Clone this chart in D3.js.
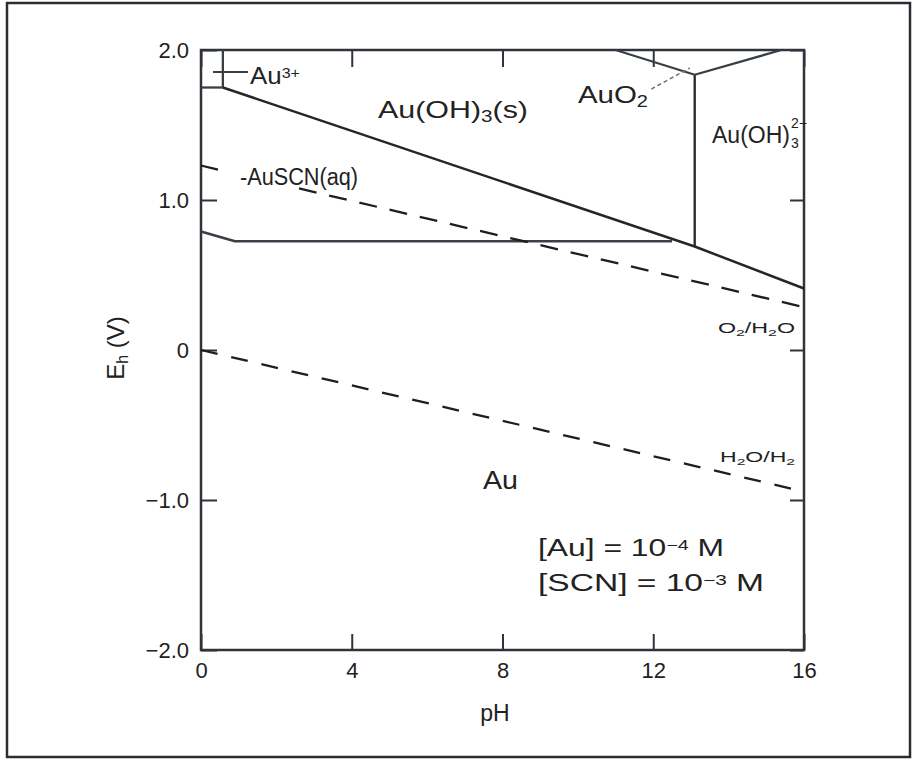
<!DOCTYPE html>
<html>
<head>
<meta charset="utf-8">
<script src="https://cdn.jsdelivr.net/npm/d3@7"></script>
<style>
  html, body { margin: 0; padding: 0; background: #fff; }
  svg { display: block; }
  text { font-family: "Liberation Sans", Arial, Helvetica, sans-serif; fill: #222; }
</style>
</head>
<body>
<svg id="chart" width="912" height="762"></svg>
<script>
// ---- data (pH, Eh in V) ----
const xTicks = [0, 4, 8, 12, 16];
const xTickLabels = ["0", "4", "8", "12", "16"];
const yTicks = [-2, -1, 0, 1, 2];
const yTickLabels = ["\u22122.0", "\u22121.0", "0", "1.0", "2.0"];

const au3Vertical   = [[0.58, 2.0], [0.58, 1.75]];
const au3Horizontal = [[0.0, 1.75], [0.58, 1.75]];
const auOH3Lower    = [[0.58, 1.75], [13.1, 0.69], [16.0, 0.41]];
const auOH3Vertical = [[13.1, 0.69], [13.1, 1.835]];
const auO2Wedge     = [[11.0, 2.0], [13.1, 1.835], [15.4, 2.0]];
const auscnLower    = [[0.0, 0.79], [0.9, 0.725], [12.5, 0.725]];
const o2h2oA        = [[0.0, 1.23], [0.45, 1.203]];
const o2h2oB        = [[2.6, 1.077], [16.0, 0.286]];
const h2oh2         = [[0.0, 0.0], [16.0, -0.944]];
const auO2Leader    = [[11.95, 1.74], [12.97, 1.88]];

const svg = d3.select("#chart");
const x = d3.scaleLinear().domain([0, 16]).range([201, 804]);
const y = d3.scaleLinear().domain([-2, 2]).range([650, 50]);
const line = d3.line().x(d => x(d[0])).y(d => y(d[1]));

// outer frame
svg.append("rect").attr("x", 7).attr("y", 3).attr("width", 903).attr("height", 754)
  .attr("fill", "none").attr("stroke", "#2a2e33").attr("stroke-width", 2.5);

// axes with inward ticks
const axisColor = "#2f343b";
function styleAxis(g, hideLabels) {
  g.select(".domain").remove();
  g.selectAll(".tick line").attr("stroke", axisColor).attr("stroke-width", 2);
  g.selectAll(".tick text").style("font-size", "22px").attr("fill", "#222")
    .style("font-family", "'Liberation Sans', Arial, sans-serif");
  if (hideLabels) g.selectAll(".tick text").remove();
}
const gb = svg.append("g").attr("transform", `translate(0,${y(-2)})`)
  .call(d3.axisBottom(x).tickValues(xTicks).tickFormat((d, i) => xTickLabels[i]).tickSizeInner(-16).tickSizeOuter(0).tickPadding(9));
styleAxis(gb, false);
gb.selectAll(".tick text").attr("dy", "0.85em");
const gt = svg.append("g").attr("transform", `translate(0,${y(2)})`)
  .call(d3.axisTop(x).tickValues(xTicks).tickSizeInner(-17).tickSizeOuter(0));
styleAxis(gt, true);
const gl = svg.append("g").attr("transform", `translate(${x(0)},0)`)
  .call(d3.axisLeft(y).tickValues(yTicks).tickFormat((d, i) => yTickLabels[i]).tickSizeInner(-16).tickSizeOuter(0).tickPadding(12));
styleAxis(gl, false);
const gr = svg.append("g").attr("transform", `translate(${x(16)},0)`)
  .call(d3.axisRight(y).tickValues(yTicks).tickSizeInner(-14).tickSizeOuter(0));
styleAxis(gr, true);

// plot box
svg.append("rect").attr("x", x(0)).attr("y", y(2)).attr("width", x(16) - x(0)).attr("height", y(-2) - y(2))
  .attr("fill", "none").attr("stroke", axisColor).attr("stroke-width", 2.5);

// boundaries
const solid = (data, w, c) => svg.append("path").datum(data).attr("d", line)
  .attr("fill", "none").attr("stroke", c || "#2a2a2a").attr("stroke-width", w || 2.2)
  .attr("stroke-linejoin", "round");
solid(au3Vertical, 2.3, "#3a3f46");
solid(au3Horizontal, 2.3, "#3a3f46");
solid(auOH3Lower, 2.5, "#262626");
solid(auOH3Vertical, 2.3, "#262626");
solid(auO2Wedge, 2.3, "#3a3f46");
solid(auscnLower, 2.7, "#3b4048");

const dashed = (data, dash, w, c) => svg.append("path").datum(data).attr("d", line)
  .attr("fill", "none").attr("stroke", c || "#1e1e1e").attr("stroke-width", w || 2.3)
  .attr("stroke-dasharray", dash);
dashed(o2h2oA, "18,14");
dashed(o2h2oB, "18,13");
dashed(h2oh2, "17,14");
dashed(auO2Leader, "4,3", 1.5, "#6a6f76");

// Au3+ leader
svg.append("line").attr("x1", 213).attr("x2", 248).attr("y1", 72).attr("y2", 72)
  .attr("stroke", "#3a3f46").attr("stroke-width", 2);

// labels
function label(xp, yp, size, parts, len) {
  const t = svg.append("text").attr("x", xp).attr("y", yp).style("font-size", size + "px");
  parts.forEach(p => {
    const s = t.append("tspan").text(p.t);
    if (p.sub) s.attr("baseline-shift", "-25%").style("font-size", (size * 0.68) + "px");
    if (p.sup) s.attr("baseline-shift", "40%").style("font-size", (size * 0.62) + "px");
  });
  if (len) t.attr("textLength", len).attr("lengthAdjust", "spacingAndGlyphs");
  return t;
}
label(250, 84, 24, [{t: "Au"}, {t: "3+", sup: true}], 50);
label(378, 118, 24, [{t: "Au(OH)"}, {t: "3", sub: true}, {t: "(s)"}], 150);
label(578, 103, 23, [{t: "AuO"}, {t: "2", sub: true}], 70);
label(240, 185, 23, [{t: "-AuSCN(aq)"}], 118);
label(483, 489, 26, [{t: "Au"}], 35);
label(718, 333, 14, [{t: "O"}, {t: "2", sub: true}, {t: "/H"}, {t: "2", sub: true}, {t: "O"}], 77);
label(720, 462, 14, [{t: "H"}, {t: "2", sub: true}, {t: "O/H"}, {t: "2", sub: true}], 75);

// Au(OH)3 2- with stacked sub/sup
const t3 = svg.append("text").attr("x", 712).attr("y", 143).style("font-size", "23px");
t3.append("tspan").text("Au(OH)");
svg.append("text").attr("x", 791).attr("y", 148).style("font-size", "14px").text("3");
svg.append("text").attr("x", 791).attr("y", 128).style("font-size", "14px").text("2\u2212");

// concentration notes
label(538, 556, 23, [{t: "[Au] = 10"}, {t: "\u22124", sup: true}, {t: " M"}], 186);
label(538, 591, 23, [{t: "[SCN] = 10"}, {t: "\u22123", sup: true}, {t: " M"}], 226);

// axis titles
svg.append("text").attr("x", 495).attr("y", 721).attr("text-anchor", "middle")
  .style("font-size", "23px").text("pH");
const yl = svg.append("text").attr("transform", "translate(124,348) rotate(-90)")
  .attr("text-anchor", "middle").style("font-size", "24px");
yl.append("tspan").text("E");
yl.append("tspan").text("h").attr("baseline-shift", "-25%").style("font-size", "16px");
yl.append("tspan").text(" (V)");
</script>
</body>
</html>
